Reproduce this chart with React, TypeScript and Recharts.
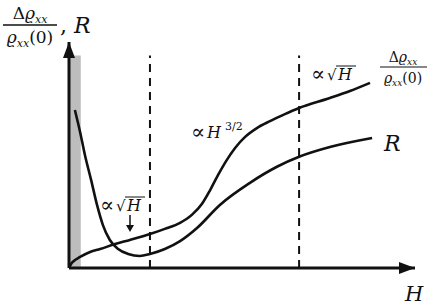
import React from 'react';
import { LineChart, Line, XAxis, YAxis, ReferenceLine, ReferenceArea, Customized } from 'recharts';

// Δρxx/ρxx(0): starts at the origin, √H, then H^{3/2}, then √H again
const rhoH = [0, 0.06, 0.14, 0.32, 0.61, 0.9, 1.33, 1.76, 2.34, 2.77, 3.21, 3.55, 3.84, 4.08, 4.31, 4.54, 4.8, 5.09, 5.43, 5.81, 6.24, 6.65, 7.54, 8.12, 8.7];
const rhoV = [0, 0.18, 0.31, 0.49, 0.71, 0.84, 1.06, 1.24, 1.5, 1.73, 2.0, 2.35, 2.83, 3.45, 4.12, 4.73, 5.31, 5.8, 6.19, 6.5, 6.81, 7.08, 7.52, 7.83, 8.19];

// R: drops from low field, minimum, then rises
const resH = [0.17, 0.32, 0.46, 0.64, 0.81, 0.98, 1.18, 1.42, 1.71, 2.05, 2.34, 2.77, 3.21, 3.7, 4.36, 5.23, 6.01, 6.65, 7.54, 8.76];
const resV = [6.99, 6.02, 5.0, 3.89, 2.79, 1.9, 1.24, 0.84, 0.62, 0.53, 0.62, 0.84, 1.19, 1.77, 2.79, 3.77, 4.48, 4.92, 5.35, 5.75];

// vertical dashed markers and the shaded low-field band
const dashedAt = [2.34, 6.65];
const band = [0, 0.34];
const topV = 9.4;

const rhoData = rhoH.map((h, i) => ({ h, v: rhoV[i] }));
const resData = resH.map((h, i) => ({ h, v: resV[i] }));

const serif = '"DejaVu Serif", serif';
const ink = '#111';

const Labels = () => (
  <g fontFamily={serif} fill={ink}>
    {/* top-left y label */}
    <text x={30} y={19} textAnchor="middle" fontSize={17}>
      <tspan>Δ</tspan>
      <tspan fontStyle="italic">ϱ</tspan>
      <tspan fontStyle="italic" fontSize={11} dy={4}>xx</tspan>
    </text>
    <line x1={3} x2={57} y1={25} y2={25} stroke={ink} strokeWidth={1.4} />
    <text x={30} y={43} textAnchor="middle" fontSize={17}>
      <tspan fontStyle="italic">ϱ</tspan>
      <tspan fontStyle="italic" fontSize={11} dy={4}>xx</tspan>
      <tspan dy={-4}>(0)</tspan>
    </text>
    <text x={60} y={33} fontSize={22}>,</text>
    <text x={74} y={33} fontSize={22} fontStyle="italic">R</text>

    {/* right labels */}
    <text x={403} y={62} textAnchor="middle" fontSize={14}>
      <tspan>Δ</tspan>
      <tspan fontStyle="italic">ϱ</tspan>
      <tspan fontStyle="italic" fontSize={9} dy={3}>xx</tspan>
    </text>
    <line x1={380} x2={427} y1={67} y2={67} stroke={ink} strokeWidth={1.2} />
    <text x={403} y={83} textAnchor="middle" fontSize={14}>
      <tspan fontStyle="italic">ϱ</tspan>
      <tspan fontStyle="italic" fontSize={9} dy={3}>xx</tspan>
      <tspan dy={-3}>(0)</tspan>
    </text>
    <text x={384} y={151} fontSize={22} fontStyle="italic">R</text>
    <text x={405} y={301} fontSize={21} fontStyle="italic">H</text>

    {/* ∝√H near the minimum */}
    <text x={100} y={212} fontSize={21}>∝</text>
    <text x={116} y={211} fontSize={15}>√</text>
    <text x={127} y={211} fontSize={16} fontStyle="italic">H</text>
    <line x1={125} x2={145} y1={197} y2={197} stroke={ink} strokeWidth={1} />
    <line x1={130} x2={130} y1={215} y2={226} stroke={ink} strokeWidth={1.5} />
    <path d="M126,225 L134,225 L130,232 Z" fill={ink} />

    {/* ∝H^{3/2} */}
    <text x={191} y={139} fontSize={21}>∝</text>
    <text x={207} y={138} fontSize={16} fontStyle="italic">H</text>
    <text x={225} y={130} fontSize={11}>3/2</text>

    {/* ∝√H at high field */}
    <text x={311} y={81} fontSize={21}>∝</text>
    <text x={327} y={80} fontSize={15}>√</text>
    <text x={338} y={80} fontSize={16} fontStyle="italic">H</text>
    <line x1={336} x2={356} y1={66} y2={66} stroke={ink} strokeWidth={1} />
  </g>
);

export default function App() {
  return (
    <div style={{ position: 'absolute', left: 0, top: 0, width: 436, height: 307, background: '#fff' }}>
      <LineChart width={436} height={307} margin={{ top: 42, right: 21, bottom: 29, left: 59 }}>
        <defs>
          <marker id="arrowHead" viewBox="0 0 16 12" markerUnits="userSpaceOnUse" markerWidth={16} markerHeight={12} refX={16} refY={6} orient="auto-start-reverse">
            <path d="M0,0 L16,6 L0,12 Z" fill={ink} />
          </marker>
        </defs>
        <ReferenceArea x1={band[0]} x2={band[1]} y1={0} y2={topV} fill="#bdbdbd" fillOpacity={1} stroke="none" />
        <XAxis
          type="number"
          dataKey="h"
          domain={[0, 10]}
          allowDataOverflow
          tick={false}
          tickLine={false}
          height={10}
          axisLine={{ stroke: ink, strokeWidth: 3, markerEnd: 'url(#arrowHead)' }}
        />
        <YAxis
          type="number"
          domain={[0, 10]}
          allowDataOverflow
          tick={false}
          tickLine={false}
          width={10}
          axisLine={{ stroke: ink, strokeWidth: 3, markerStart: 'url(#arrowHead)' }}
        />
        {dashedAt.map((x) => (
          <ReferenceLine
            key={x}
            segment={[{ x, y: 0 }, { x, y: topV }]}
            stroke={ink}
            strokeWidth={2}
            strokeDasharray="8 6"
          />
        ))}
        <Line data={rhoData} dataKey="v" type="monotone" stroke={ink} strokeWidth={2.6} dot={false} isAnimationActive={false} />
        <Line data={resData} dataKey="v" type="monotone" stroke={ink} strokeWidth={2.6} dot={false} isAnimationActive={false} />
        <Customized component={Labels} />
      </LineChart>
    </div>
  );
}
